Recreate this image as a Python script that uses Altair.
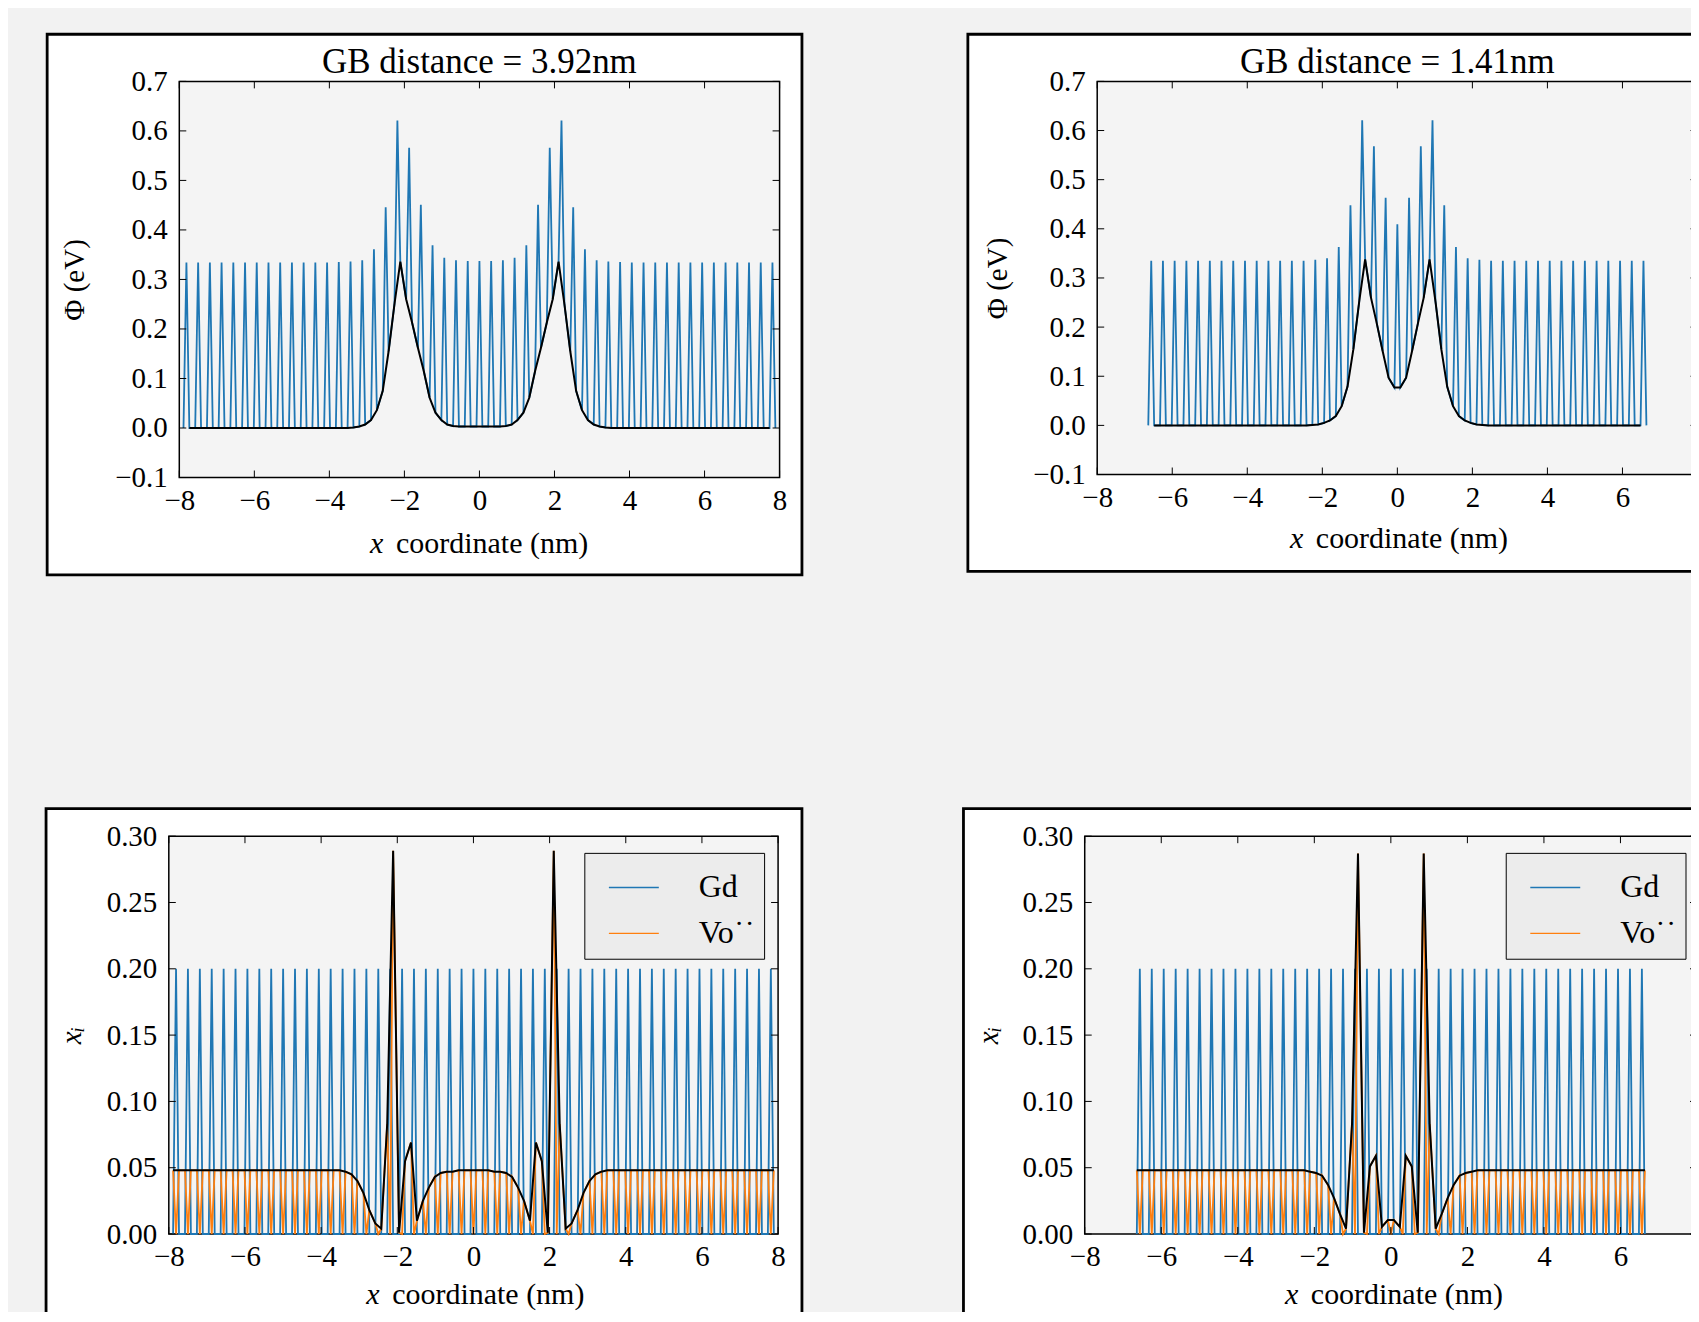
import altair as alt
import pandas as pd

FONT = "Liberation Serif"
BLUE = "#1f77b4"
ORANGE = "#ff7f0e"
PAGE = "#f2f2f2"
PLOT = "#f4f4f4"

# ---------------- data ----------------
# cation (Ce/Gd) plane positions, x >= 0 half (nm)
CATION_X = [0.000, 0.312, 0.625, 0.937, 1.250, 1.562, 1.874, 2.187, 2.499, 2.812,
            3.124, 3.436, 3.749, 4.061, 4.374, 4.686, 4.998, 5.311, 5.623, 5.936,
            6.248, 6.560, 6.873, 7.185, 7.498, 7.810]
# anion (O) plane positions, x > 0 half (nm)
ANION_X = [0.078, 0.234, 0.391, 0.547, 0.703, 0.859, 1.015, 1.172, 1.328, 1.484,
           1.640, 1.796, 1.953, 2.109, 2.265, 2.421, 2.577, 2.734, 2.890, 3.046,
           3.202, 3.358, 3.515, 3.671, 3.827, 3.983, 4.139, 4.296, 4.452, 4.608,
           4.764, 4.920, 5.077, 5.233, 5.389, 5.545, 5.701, 5.858, 6.014, 6.170,
           6.326, 6.482, 6.639, 6.795, 6.951, 7.107, 7.263, 7.420, 7.576, 7.732,
           7.888]

# GB distance = 3.92 nm : potential (eV)
TL_CATION = [0.337, 0.337, 0.339, 0.344, 0.369, 0.451, 0.566, 0.621, 0.446, 0.361,
             0.339, 0.336, 0.335, 0.334, 0.334, 0.334, 0.334, 0.334, 0.334, 0.334,
             0.334, 0.334, 0.334, 0.334, 0.334, 0.334]
TL_ANION = [0.003, 0.003, 0.003, 0.003, 0.004, 0.007, 0.016, 0.031, 0.061, 0.115,
            0.162, 0.213, 0.260, 0.336, 0.250, 0.155, 0.075, 0.036, 0.016, 0.007,
            0.003, 0.001, 0.000, 0.000, 0.000, 0.000, 0.000, 0.000, 0.000, 0.000,
            0.000, 0.000, 0.000, 0.000, 0.000, 0.000, 0.000, 0.000, 0.000, 0.000,
            0.000, 0.000, 0.000, 0.000, 0.000, 0.000, 0.000, 0.000, 0.000, 0.000,
            0.000]

# GB distance = 1.41 nm : potential (eV)
TR_CATION = [0.409, 0.463, 0.568, 0.621, 0.448, 0.363, 0.340, 0.337, 0.335, 0.335,
             0.335, 0.335, 0.335, 0.335, 0.335, 0.335, 0.335, 0.335, 0.335, 0.335,
             0.335, 0.335]
TR_ANION = [0.077, 0.097, 0.151, 0.207, 0.260, 0.338, 0.253, 0.155, 0.079, 0.039,
            0.019, 0.010, 0.005, 0.002, 0.001, 0.000, 0.000, 0.000, 0.000, 0.000,
            0.000, 0.000, 0.000, 0.000, 0.000, 0.000, 0.000, 0.000, 0.000, 0.000,
            0.000, 0.000, 0.000, 0.000, 0.000, 0.000, 0.000, 0.000, 0.000, 0.000,
            0.000, 0.000, 0.000]

# site fractions, GB distance = 3.92 nm
BL_GD = [0.2, 0.2, 0.2, 0.2, 0.2, 0.2, 0.2, 0.2, 0.2, 0.2, 0.2, 0.2, 0.2,
         0.2, 0.2, 0.2, 0.2, 0.2, 0.2, 0.2, 0.2, 0.2, 0.2, 0.2, 0.2, 0.2]
BL_VO = [0.048, 0.048, 0.048, 0.047, 0.047, 0.046, 0.043, 0.035, 0.025, 0.010,
         0.069, 0.055, 0.001, 0.289, 0.083, 0.004, 0.008, 0.018, 0.031, 0.040,
         0.045, 0.047, 0.048, 0.048, 0.048, 0.048, 0.048, 0.048, 0.048, 0.048,
         0.048, 0.048, 0.048, 0.048, 0.048, 0.048, 0.048, 0.048, 0.048, 0.048,
         0.048, 0.048, 0.048, 0.048, 0.048, 0.048, 0.048, 0.048, 0.048, 0.048,
         0.048]

# site fractions, GB distance = 1.41 nm
BR_GD = [0.2, 0.2, 0.2, 0.2, 0.2, 0.2, 0.2, 0.2, 0.2, 0.2, 0.2,
         0.2, 0.2, 0.2, 0.2, 0.2, 0.2, 0.2, 0.2, 0.2, 0.2, 0.2]
BR_VO = [0.0105, 0.0054, 0.059, 0.051, 0.001, 0.287, 0.083, 0.004, 0.015, 0.027,
         0.037, 0.044, 0.046, 0.047, 0.048, 0.048, 0.048, 0.048, 0.048, 0.048,
         0.048, 0.048, 0.048, 0.048, 0.048, 0.048, 0.048, 0.048, 0.048, 0.048,
         0.048, 0.048, 0.048, 0.048, 0.048, 0.048, 0.048, 0.048, 0.048, 0.048,
         0.048, 0.048, 0.048]

GD_ON_ANION = 0.0
VO_ON_CATION = 0.0

X_TICKS = [-8, -6, -4, -2, 0, 2, 4, 6, 8]
PHI_TICKS = [-0.1, 0.0, 0.1, 0.2, 0.3, 0.4, 0.5, 0.6, 0.7]
XI_TICKS = [0.0, 0.05, 0.10, 0.15, 0.20, 0.25, 0.30]
SERIES = ["Gd", "Vo\u02d9\u02d9"]


def mirror(xs, vs):
    out = []
    for x, v in zip(xs, vs):
        out.append((x, v))
        if x > 0:
            out.append((-x, v))
    return out


def phi_frames(cat_v, an_v):
    n, m = len(cat_v), len(an_v)
    pts = mirror(CATION_X[:n], cat_v) + mirror(ANION_X[:m], an_v)
    blue = pd.DataFrame(pts, columns=["x", "v"])
    black = pd.DataFrame(mirror(ANION_X[:m - 1], an_v[:m - 1]), columns=["x", "v"])
    return blue, black


def frac_frames(gd, vo):
    n, m = len(gd), len(vo)
    g = mirror(CATION_X[:n], gd) + mirror(ANION_X[:m], [GD_ON_ANION] * m)
    o = mirror(CATION_X[:n], [VO_ON_CATION] * n) + mirror(ANION_X[:m], vo)
    rows = [(x, v, SERIES[0]) for x, v in g] + [(x, v, SERIES[1]) for x, v in o]
    lines = pd.DataFrame(rows, columns=["x", "v", "s"])
    black = pd.DataFrame(mirror(ANION_X[:m], vo), columns=["x", "v"])
    return lines, black


ONE = pd.DataFrame({"o": [0]})
TICK = 7
LW = 1.8


def panel(kind, lines, black, ox, w, h, ydom, yticks, yfmt, ytitle, ytx, xtc, xty,
          box, title=None, legend_xy=None, page_bg=False, cut_right=False):
    x0, x1, y0, y1 = box
    layers = []
    if page_bg:
        # page background (the figure is cropped by the chart padding)
        layers.append(alt.Chart(ONE).mark_rect(fill=PAGE).encode(
            x=alt.value(-300), x2=alt.value(2000), y=alt.value(-300), y2=alt.value(2000)))
    layers.append(alt.Chart(ONE).mark_rect(fill="white", stroke="black", strokeWidth=2.8).encode(
        x=alt.value(x0), x2=alt.value(x1), y=alt.value(y0), y2=alt.value(y1)))
    layers.append(alt.Chart(ONE).mark_rect(fill=PLOT, stroke="black", strokeWidth=1.5).encode(
        x=alt.value(ox), x2=alt.value(ox + w), y=alt.value(0), y2=alt.value(h)))
    if title:
        layers.append(alt.Chart(ONE).mark_text(text=title, font=FONT, fontSize=35, color="black",
                                               align="center", baseline="middle").encode(
            x=alt.value(ox + w / 2), y=alt.value(-19.5)))
    # x-axis title with italic x
    layers.append(alt.Chart(ONE).mark_text(text="x", font=FONT, fontSize=30, fontStyle="italic",
                                           color="black", align="left", baseline="middle").encode(
        x=alt.value(xtc - 108.9), y=alt.value(h + xty)))
    layers.append(alt.Chart(ONE).mark_text(text="coordinate (nm)", font=FONT, fontSize=30,
                                           color="black", align="left", baseline="middle").encode(
        x=alt.value(xtc - 82.9), y=alt.value(h + xty)))

    xs = alt.Scale(domain=[-8, 8], range=[ox, ox + w], nice=False, zero=False)
    ys = alt.Scale(domain=ydom, nice=False, zero=False)
    xaxis = alt.Axis(values=X_TICKS, format="d", ticks=False, tickSize=0, domain=False, grid=False,
                     labelFont=FONT, labelFontSize=29, labelColor="black", labelPadding=9,
                     labelFlush=False, labelOverlap=False, title=None, zindex=1,
                     labelExpr=("datum.value == 8 ? '' : datum.label") if cut_right else "datum.label")
    yaxis = alt.Axis(values=yticks, format=yfmt, ticks=False, tickSize=0, domain=False, grid=False,
                     labelFont=FONT, labelFontSize=29, labelColor="black", labelPadding=12,
                     labelOverlap=False, labelFlush=False, offset=-ox,
                     title=ytitle, titleFont=FONT, titleFontSize=29, titleFontWeight="normal",
                     titleFontStyle="italic" if kind == "frac" else "normal",
                     titleColor="black", titleAngle=270, titleX=ytx, titleY=h / 2,
                     titleBaseline="middle", titleAlign="center", zindex=1)

    if kind == "phi":
        layers.append(alt.Chart(lines).mark_line(color=BLUE, strokeWidth=LW).encode(
            x=alt.X("x:Q", scale=xs, axis=xaxis), y=alt.Y("v:Q", scale=ys, axis=yaxis)))
    else:
        leg = alt.Legend(orient="none", legendX=legend_xy[0], legendY=legend_xy[1], title=None,
                         fillColor="#ececec", strokeColor="black", padding=8.6,
                         symbolType="stroke", symbolSize=2500, symbolStrokeWidth=1.5,
                         symbolOffset=15, labelOffset=39, labelFont=FONT, labelFontSize=32,
                         labelColor="black", rowPadding=4, zindex=1)
        layers.append(alt.Chart(lines).mark_line(strokeWidth=LW).encode(
            x=alt.X("x:Q", scale=xs, axis=xaxis), y=alt.Y("v:Q", scale=ys, axis=yaxis),
            color=alt.Color("s:N", scale=alt.Scale(domain=SERIES, range=[BLUE, ORANGE]), legend=leg)))
    layers.append(alt.Chart(black).mark_line(color="black", strokeWidth=2).encode(
        x=alt.X("x:Q", scale=xs), y=alt.Y("v:Q", scale=ys)))

    xt = pd.DataFrame({"x": X_TICKS})
    yt = pd.DataFrame({"v": yticks})
    for a, b in ((0, TICK), (h, h - TICK)):
        layers.append(alt.Chart(xt).mark_rule(color="black", strokeWidth=1).encode(
            x=alt.X("x:Q", scale=xs), y=alt.value(a), y2=alt.value(b)))
    for a, b in ((ox, ox + TICK), (ox + w, ox + w - TICK)):
        layers.append(alt.Chart(yt).mark_rule(color="black", strokeWidth=1).encode(
            y=alt.Y("v:Q", scale=ys), x=alt.value(a), x2=alt.value(b)))

    return alt.layer(*layers).properties(width=ox + w, height=h)


tl_blue, tl_black = phi_frames(TL_CATION, TL_ANION)
tr_blue, tr_black = phi_frames(TR_CATION, TR_ANION)
bl_lines, bl_black = frac_frames(BL_GD, BL_VO)
br_lines, br_black = frac_frames(BR_GD, BR_VO)

tl = panel("phi", tl_blue, tl_black, 10.5, 601, 396.6, [-0.1, 0.7], PHI_TICKS, ".1f", "\u03a6 (eV)",
           -104.8, 310.4, 66.7, (-121.8, 633.9, -47.2, 494.1),
           title="GB distance = 3.92nm", page_bg=True)
tr = panel("phi", tr_blue, tr_black, 12.5, 601, 393.6, [-0.1, 0.7], PHI_TICKS, ".1f", "\u03a6 (eV)",
           -100.3, 314.3, 64.8, (-117.0, 660, -47.2, 490.5),
           title="GB distance = 1.41nm", cut_right=True)
bl = panel("frac", bl_lines, bl_black, 0, 610, 398.3, [0, 0.3], XI_TICKS, ".2f", "x\u1d62",
           -97.6, 306.6, 60.7, (-122.9, 633.9, -27.7, 520),
           legend_xy=(416, 16.7))
br = panel("frac", br_lines, br_black, 0, 613, 398.3, [0, 0.3], XI_TICKS, ".2f", "x\u1d62",
           -96.5, 309.3, 60.7, (-121.4, 660, -27.7, 520),
           legend_xy=(421.5, 16.7), cut_right=True)

# crop window: page x 8..1691, y 8..1310 (TL plot-area origin at page (168, 81.7))
chart = alt.concat(tl, tr, bl, br, columns=2, bounds="flush", align="all",
                   spacing={"row": 356.7, "column": 303.0}).resolve_scale(
    color="independent").resolve_legend(color="independent").properties(
    padding={"left": -140, "top": -228.3, "right": -477, "bottom": -769.7},
    background=PAGE).configure_view(strokeWidth=0).configure(font=FONT)

chart.save("out.html", embed_options={"renderer": "svg", "actions": False})
